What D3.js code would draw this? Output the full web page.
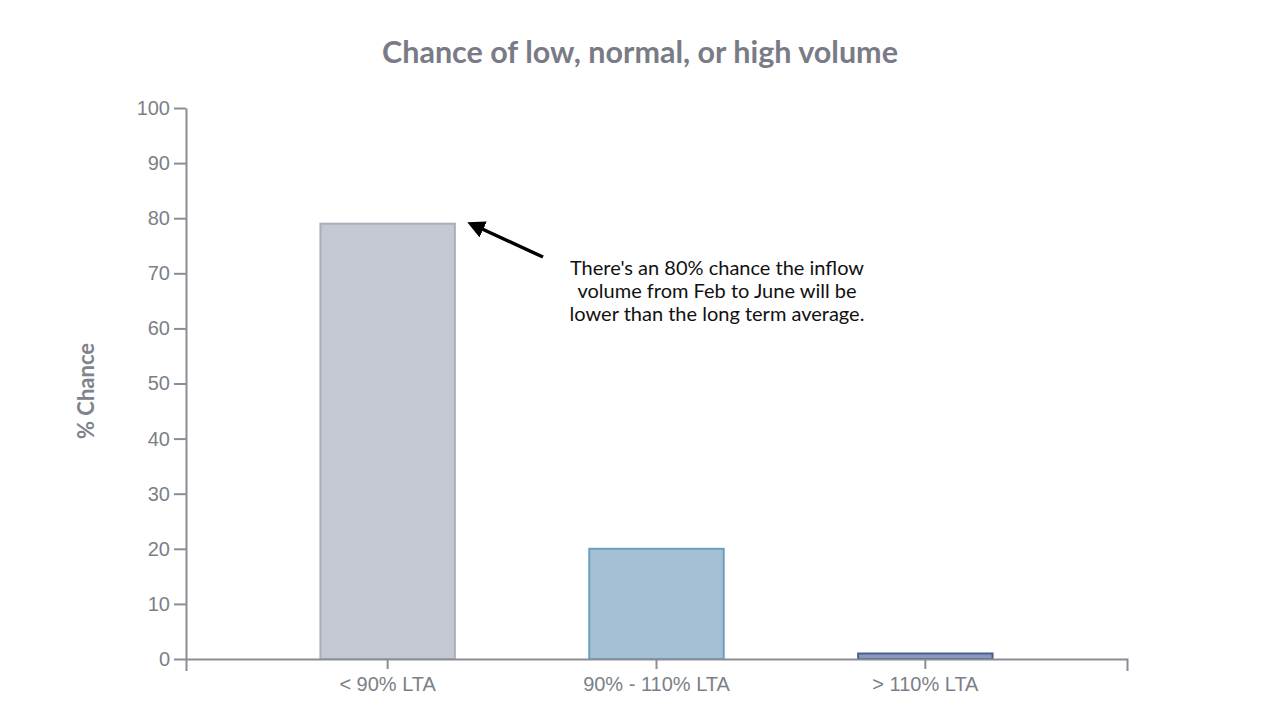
<!DOCTYPE html>
<html lang="en">
<head>
    <meta charset="UTF-8">
    <title>Chance of low, normal, or high volume</title>
    <script src="https://cdn.jsdelivr.net/npm/d3@7"></script>
    <style>
        body {
            margin: 0;
            background: #fff;
        }

        .axis text {
            font-family: "Liberation Sans", Arial, sans-serif;
            font-size: 20px;
            fill: #7c7f87;
        }

        .axis path, .axis line {
            stroke: #8a8d95;
            stroke-width: 2px;
        }
    </style>
</head>
<body>
<div id="chart"></div>
<script>
    var categories = ['< 90% LTA', '90% - 110% LTA', '> 110% LTA'];
    var chances = [79, 20, 1];
    var fills = ['#c4c8d2', '#a5c0d5', '#8799bd'];
    var strokes = ['#a9aeb8', '#6c9ebf', '#4d5f8e'];
    var yTicks = [0, 10, 20, 30, 40, 50, 60, 70, 80, 90, 100];
    var noteLines = [
        "There's an 80% chance the inflow",
        'volume from Feb to June will be',
        'lower than the long term average.'
    ];

    var width = 1280, height = 720;
    var margin = {top: 108, right: 153, bottom: 61, left: 186};

    var svg = d3.select('#chart').append('svg')
        .attr('width', width)
        .attr('height', height);

    var x = d3.scaleBand()
        .domain(categories)
        .range([margin.left, width - margin.right])
        .paddingInner(0.5)
        .paddingOuter(0.5);

    var y = d3.scaleLinear()
        .domain([0, 100])
        .range([height - margin.bottom, margin.top]);

    // title
    svg.append('text')
        .attr('x', 640)
        .attr('y', 63)
        .attr('text-anchor', 'middle')
        .style('font-family', 'Lato, sans-serif')
        .style('font-weight', 'bold')
        .style('font-size', '30.5px')
        .style('fill', '#797b86')
        .text('Chance of low, normal, or high volume');

    // bars
    svg.selectAll('rect.bar')
        .data(chances)
        .enter()
        .append('rect')
        .attr('class', 'bar')
        .attr('x', (d, i) => x(categories[i]))
        .attr('y', d => y(d))
        .attr('width', x.bandwidth())
        .attr('height', d => y(0) - y(d))
        .style('fill', (d, i) => fills[i])
        .style('stroke', (d, i) => strokes[i])
        .style('stroke-width', 2);

    svg.append('g')
        .attr('class', 'axis')
        .attr('transform', 'translate(' + margin.left + ',0)')
        .call(d3.axisLeft(y).tickValues(yTicks).tickSize(12).tickSizeOuter(0).tickPadding(4));

    svg.append('g')
        .attr('class', 'axis')
        .attr('transform', 'translate(0,' + y(0) + ')')
        .call(d3.axisBottom(x).tickSize(10).tickSizeOuter(12).tickPadding(8));

    // y label
    svg.append('text')
        .attr('transform', 'translate(94,391) rotate(-90)')
        .attr('text-anchor', 'middle')
        .style('font-family', 'Lato, sans-serif')
        .style('font-weight', 'bold')
        .style('font-size', '22px')
        .style('fill', '#80838b')
        .text('% Chance');

    // annotation
    svg.append('defs').append('marker')
        .attr('id', 'head')
        .attr('viewBox', '0 0 10 10')
        .attr('refX', 2)
        .attr('refY', 5)
        .attr('markerWidth', 5)
        .attr('markerHeight', 5)
        .attr('orient', 'auto')
        .append('path')
        .attr('d', 'M0,0 L10,5 L0,10 Z')
        .style('fill', '#000');

    svg.append('line')
        .attr('x1', 543).attr('y1', 257)
        .attr('x2', 480).attr('y2', 228)
        .style('stroke', '#000')
        .style('stroke-width', 3.5)
        .attr('marker-end', 'url(#head)');

    svg.append('text')
        .attr('x', 717)
        .attr('y', 275)
        .attr('text-anchor', 'middle')
        .style('font-family', 'Lato, sans-serif')
        .style('font-size', '20px')
        .style('fill', '#111')
        .selectAll('tspan')
        .data(noteLines)
        .enter()
        .append('tspan')
        .attr('x', 717)
        .attr('dy', (d, i) => i ? 23 : 0)
        .text(d => d);
</script>
</body>
</html>
